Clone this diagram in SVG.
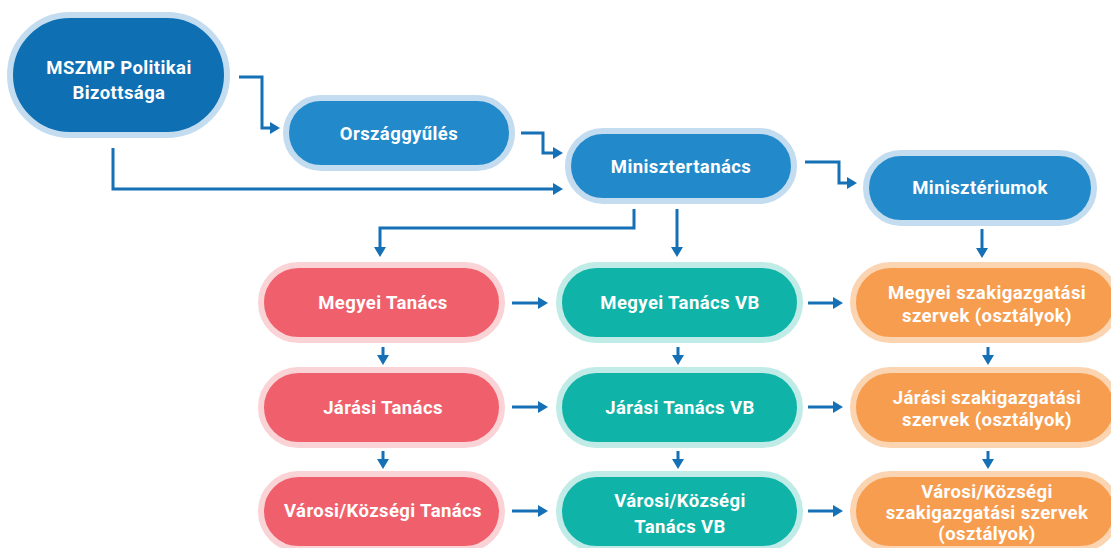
<svg xmlns="http://www.w3.org/2000/svg" width="1111" height="548" viewBox="0 0 1111 548">
<defs>
<style>
.lbl{font-family:Roboto,"Liberation Sans",sans-serif;font-weight:bold;font-size:18.5px;letter-spacing:0.4px;fill:#ffffff;text-anchor:middle}
.dark{fill:#0f6fb3;stroke:#c3dcef;stroke-width:6}
.blue{fill:#2289cb;stroke:#c3dcef;stroke-width:6}
.red{fill:#f0606c;stroke:#fad3d6;stroke-width:6}
.teal{fill:#0fb3a8;stroke:#c0ebe7;stroke-width:6}
.orange{fill:#f79d4f;stroke:#fbd4b1;stroke-width:6}
.conn{fill:none;stroke:#1570b5;stroke-width:3;marker-end:url(#ah)}
</style>
<marker id="ah" markerUnits="userSpaceOnUse" markerWidth="11" markerHeight="13" refX="0.5" refY="6" orient="auto">
<path d="M0,0 L10,6 L0,12 z" fill="#1570b5"/>
</marker>
</defs>
<g id="connectors">
<path class="conn" d="M239,77 H262 V128 H270.5"/>
<path class="conn" d="M521,133 H543 V153 H553.5"/>
<path class="conn" d="M113,148 V189 H553.5"/>
<path class="conn" d="M805,162 H839 V183 H847.5"/>
<path class="conn" d="M634,209 V228 H380 V247.5"/>
<path class="conn" d="M677,209 V247.5"/>
<path class="conn" d="M982,229 V248.5"/>
<path class="conn" d="M512,303 H538.5"/>
<path class="conn" d="M808,303 H833.5"/>
<path class="conn" d="M512,407 H538.5"/>
<path class="conn" d="M808,407 H833.5"/>
<path class="conn" d="M512,511 H538.5"/>
<path class="conn" d="M808,511 H833.5"/>
<path class="conn" d="M383,347 V355.5"/>
<path class="conn" d="M383,451 V459.5"/>
<path class="conn" d="M678,347 V355.5"/>
<path class="conn" d="M678,451 V459.5"/>
<path class="conn" d="M988,347 V355.5"/>
<path class="conn" d="M988,451 V459.5"/>
</g>
<g id="mszmp">
<rect class="dark" x="10" y="15" width="217" height="120" rx="60"/>
<text class="lbl" x="119" y="74">MSZMP Politikai</text>
<text class="lbl" x="119" y="99">Bizottsága</text>
</g>
<g id="orszaggyules">
<rect class="blue" x="286" y="98" width="226" height="70" rx="35"/>
<text class="lbl" x="399" y="139.5">Országgyűlés</text>
</g>
<g id="minisztertanacs">
<rect class="blue" x="568" y="131" width="226" height="70" rx="35"/>
<text class="lbl" x="681" y="172.5">Minisztertanács</text>
</g>
<g id="miniszteriumok">
<rect class="blue" x="866" y="153" width="228" height="70" rx="35"/>
<text class="lbl" x="980" y="194">Minisztériumok</text>
</g>
<g id="megyei-tanacs">
<rect class="red" x="261" y="265" width="241" height="75" rx="37.5"/>
<text class="lbl" x="383" y="309">Megyei Tanács</text>
</g>
<g id="megyei-tanacs-vb">
<rect class="teal" x="559" y="265" width="241" height="75" rx="37.5"/>
<text class="lbl" x="680" y="309">Megyei Tanács VB</text>
</g>
<g id="megyei-szak">
<rect class="orange" x="853" y="265" width="264" height="75" rx="37.5"/>
<text class="lbl" x="987" y="298.5">Megyei szakigazgatási</text>
<text class="lbl" x="987" y="321.5">szervek (osztályok)</text>
</g>
<g id="jarasi-tanacs">
<rect class="red" x="261" y="370" width="241" height="75" rx="37.5"/>
<text class="lbl" x="383" y="413.5">Járási Tanács</text>
</g>
<g id="jarasi-tanacs-vb">
<rect class="teal" x="559" y="370" width="241" height="75" rx="37.5"/>
<text class="lbl" x="680" y="413.5">Járási Tanács VB</text>
</g>
<g id="jarasi-szak">
<rect class="orange" x="853" y="370" width="264" height="75" rx="37.5"/>
<text class="lbl" x="987" y="403.5">Járási szakigazgatási</text>
<text class="lbl" x="987" y="426">szervek (osztályok)</text>
</g>
<g id="varosi-tanacs">
<rect class="red" x="261" y="474" width="241" height="75" rx="37.5"/>
<text class="lbl" x="383" y="517">Városi/Községi Tanács</text>
</g>
<g id="varosi-tanacs-vb">
<rect class="teal" x="559" y="474" width="241" height="75" rx="37.5"/>
<text class="lbl" x="680" y="506.5">Városi/Községi</text>
<text class="lbl" x="680" y="532.5">Tanács VB</text>
</g>
<g id="varosi-szak">
<rect class="orange" x="853" y="474" width="264" height="75" rx="37.5"/>
<text class="lbl" x="987" y="497.5">Városi/Községi</text>
<text class="lbl" x="987" y="518.5">szakigazgatási szervek</text>
<text class="lbl" x="987" y="539.5">(osztályok)</text>
</g>
</svg>
